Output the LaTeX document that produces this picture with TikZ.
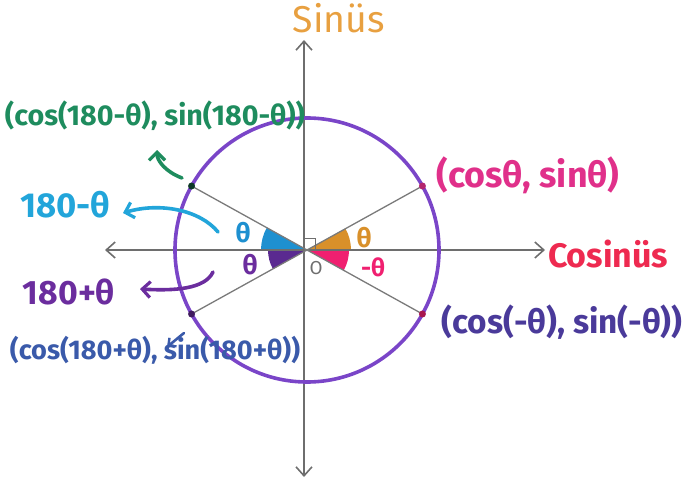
\documentclass[tikz,border=0pt]{standalone}
\usepackage{fontspec}
\usepackage{graphicx}
\setmainfont{Fira Sans}
\usetikzlibrary{arrows.meta,calc}
\definecolor{axisgray}{HTML}{6E6E6E}
\definecolor{diaggray}{HTML}{7A7A7A}
\definecolor{circpurple}{HTML}{7A45C8}
\definecolor{sinorange}{HTML}{E8A040}
\definecolor{cosred}{HTML}{EE2A50}
\definecolor{magentalbl}{HTML}{E0308A}
\definecolor{indigolbl}{HTML}{4A3A9A}
\definecolor{greenlbl}{HTML}{1E8C5E}
\definecolor{bluelbl}{HTML}{22A5DA}
\definecolor{purplelbl}{HTML}{6B2D9E}
\definecolor{navylbl}{HTML}{3A5AAA}
\definecolor{wedgeorange}{HTML}{D9902A}
\definecolor{wedgepink}{HTML}{F02070}
\definecolor{wedgeblue}{HTML}{1E90D0}
\definecolor{wedgepurple}{HTML}{5A2A90}
\newcommand{\fitw}[2]{\resizebox{#1pt}{!}{\bfseries #2}}
\tikzset{
  axisline/.style={draw=axisgray, line width=2pt, -{Straight Barb[length=9pt,width=16pt,line width=1.6pt]}},
  diagline/.style={draw=diaggray, line width=1.3pt},
  lbl/.style={inner sep=0pt, anchor=center},
  curvedarrow/.style={line width=3.6pt, line cap=round, -{Straight Barb[length=8pt,width=16pt,line width=3.2pt]}},
  ptdot/.style={circle, inner sep=0pt, minimum size=7pt},
}
\begin{document}
\begin{tikzpicture}[x=1pt,y=1pt]
\useasboundingbox (0,0) rectangle (688,483);
\coordinate (O) at (307,233);
% wedges
\fill[wedgeorange] (O) -- ++(0:44) arc[start angle=0,end angle=29,radius=44] -- cycle;
\fill[wedgepink] (O) -- ++(0:42) arc[start angle=0,end angle=-29,radius=42] -- cycle;
\fill[wedgeblue] (O) -- ++(180:46) arc[start angle=180,end angle=151,radius=46] -- cycle;
\fill[wedgepurple] (O) -- ++(180:39) arc[start angle=180,end angle=209,radius=39] -- cycle;
% axes
\coordinate (vb) at (304,6);
\coordinate (vt) at (304,443);
\coordinate (hl) at (105,233);
\coordinate (hr) at (545,233);
\coordinate (vmid) at (304,233);
\draw[axisline] (vmid) -- (vt);
\draw[axisline] (vmid) -- (vb);
\draw[axisline] (vmid) -- (hr);
\draw[axisline] (vmid) -- (hl);
% points on circle
\coordinate (p1) at ($(O)+(29:132)$);
\coordinate (p2) at ($(O)+(151:132)$);
\coordinate (p3) at ($(O)+(209:132)$);
\coordinate (p4) at ($(O)+(331:132)$);
\draw[diagline] (p1) -- (p3);
\draw[diagline] (p2) -- (p4);
% circle
\draw[circpurple, line width=3.6pt] (O) circle[radius=132];
\node[ptdot, fill=magentalbl!80!black] (d1) at (p1) {};
\node[ptdot, fill=greenlbl!40!black] (d2) at (p2) {};
\node[ptdot, fill=purplelbl!60!black] (d3) at (p3) {};
\node[ptdot, fill=wedgepink!70!black] (d4) at (p4) {};
% right angle mark and origin label
\coordinate (ra1) at (304,245);
\coordinate (ra2) at (315,245);
\coordinate (ra3) at (315,233);
\draw[axisgray, line width=1pt] (ra1) -- (ra2) -- (ra3);
\node[lbl, text=axisgray] (olbl) at (316,215) {\resizebox{13pt}{!}{O}};
% angle labels
\node[lbl, text=wedgeorange] (t1) at (364,245) {\fitw{15}{θ}};
\node[lbl, text=wedgepink] (t2) at (373,216) {\fitw{24}{-θ}};
\node[lbl, text=wedgeblue] (t3) at (243,250) {\fitw{15}{θ}};
\node[lbl, text=purplelbl] (t4) at (250,218) {\fitw{15}{θ}};
% axis titles
\node[lbl, text=sinorange] (sinl) at (339,465) {\resizebox{92pt}{!}{Sinüs}};
\node[lbl, text=cosred] (cosl) at (608,229) {\fitw{120}{Cosinüs}};
% point labels
\node[lbl, text=magentalbl] (l1) at (528,308) {\fitw{183}{(cosθ, sinθ)}};
\node[lbl, text=indigolbl] (l4) at (562,161) {\fitw{241}{(cos(-θ), sin(-θ))}};
\node[lbl, text=greenlbl] (l2) at (155,367) {\fitw{300}{(cos(180-θ), sin(180-θ))}};
\node[lbl, text=navylbl] (l3) at (155,133) {\fitw{290}{(cos(180+θ), sin(180+θ))}};
\node[lbl, text=bluelbl] (a2) at (65,278) {\fitw{90}{180-θ}};
\node[lbl, text=purplelbl] (a3) at (69,191) {\fitw{92}{180+θ}};
% curved arrows
\coordinate (bs) at (218,251);
\coordinate (be) at (123,270);
\draw[curvedarrow, bluelbl] (bs) .. controls (200,273) and (160,281) .. (be);
\coordinate (gs) at (182,305);
\coordinate (ge) at (157,333);
\draw[curvedarrow, greenlbl] (gs) .. controls (166,311) and (157,322) .. (ge);
\coordinate (ps) at (213,211);
\coordinate (pe) at (140,194);
\draw[curvedarrow, purplelbl] (ps) .. controls (205,194) and (175,192) .. (pe);
\coordinate (ns) at (184,150);
\coordinate (ne) at (167,136);
\draw[navylbl, line width=2.6pt, line cap=round, -{Straight Barb[length=6pt,width=11pt,line width=2.4pt]}] (ns) -- (ne);
\end{tikzpicture}
\end{document}
